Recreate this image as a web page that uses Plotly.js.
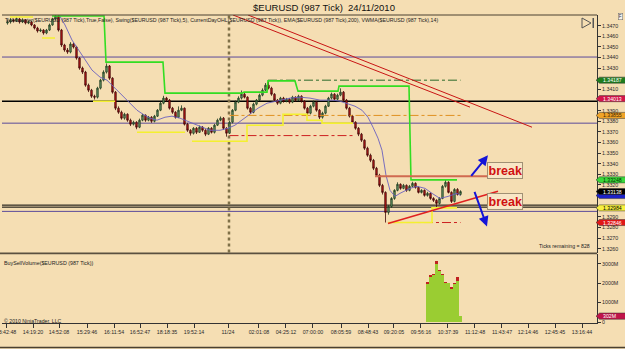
<!DOCTYPE html>
<html><head><meta charset="utf-8">
<script src="https://cdn.plot.ly/plotly-3.0.1.min.js"></script>
<style>html,body{margin:0;padding:0;background:#F5DEB3;}#chart{width:625px;height:349px;}</style>
</head><body><div id="chart"></div>
<script>
// ---------- DATA ----------
const openP = [1.34725,1.34735,1.34754,1.34744,1.34763,1.34735,1.34754,1.34725,1.34735,1.34707,
 1.34678,1.34650,1.34659,1.34631,1.34659,1.34707,1.34763,1.34792,1.34659,1.34518,
 1.34471,1.34452,1.34527,1.34499,1.34395,1.34301,1.34263,1.34140,1.34093,1.34036,
 1.34027,1.34112,1.34187,1.34263,1.34320,1.34206,1.34074,1.33923,1.33885,1.33829,
 1.33866,1.33810,1.33772,1.33791,1.33744,1.33810,1.33857,1.33810,1.33838,1.33800,
 1.33848,1.33904,1.33970,1.34018,1.33999,1.33923,1.33885,1.33838,1.33904,1.33923,
 1.33772,1.33715,1.33687,1.33734,1.33696,1.33744,1.33715,1.33678,1.33734,1.33696,
 1.33763,1.33810,1.33829,1.33734,1.33687,1.33791,1.33904,1.33980,1.34018,1.34055,
 1.34027,1.33923,1.33885,1.33961,1.33999,1.34046,1.34093,1.34140,1.34112,1.34055,
 1.33999,1.33970,1.34018,1.33989,1.34008,1.33980,1.34027,1.33999,1.34036,1.33989,
 1.33923,1.33876,1.33942,1.33980,1.33904,1.33838,1.33876,1.33942,1.34018,1.34055,
 1.34008,1.34046,1.34074,1.33999,1.33923,1.33848,1.33791,1.33734,1.33678,1.33621,
 1.33546,1.33480,1.33432,1.33357,1.33291,1.33196,1.33130,1.32941,1.32998,1.33073,
 1.33149,1.33206,1.33168,1.33196,1.33149,1.33187,1.33215,1.33177,1.33130,1.33149,
 1.33102,1.33121,1.33073,1.33055,1.33026,1.33073,1.33187,1.33225,1.33130,1.33045,
 1.33158,1.33111];
const highP = [1.34760,1.34772,1.34768,1.34780,1.34775,1.34770,1.34762,1.34750,1.34745,1.34715,
 1.34690,1.34675,1.34668,1.34670,1.34720,1.34775,1.34805,1.34800,1.34670,1.34530,
 1.34490,1.34545,1.34540,1.34510,1.34405,1.34315,1.34275,1.34155,1.34105,1.34050,
 1.34125,1.34200,1.34280,1.34345,1.34330,1.34215,1.34085,1.33940,1.33900,1.33880,
 1.33875,1.33825,1.33805,1.33800,1.33825,1.33870,1.33865,1.33850,1.33848,1.33860,
 1.33915,1.33985,1.34040,1.34030,1.34010,1.33935,1.33895,1.33940,1.33950,1.33930,
 1.33785,1.33725,1.33745,1.33745,1.33760,1.33755,1.33725,1.33745,1.33745,1.33775,
 1.33825,1.33845,1.33840,1.33745,1.33805,1.33915,1.33995,1.34035,1.34090,1.34070,
 1.34035,1.33935,1.33975,1.34010,1.34060,1.34110,1.34160,1.34187,1.34125,1.34065,
 1.34010,1.34030,1.34030,1.34020,1.34018,1.34040,1.34035,1.34050,1.34045,1.33998,
 1.33935,1.33955,1.33995,1.33990,1.33915,1.33890,1.33955,1.34030,1.34070,1.34065,
 1.34060,1.34110,1.34085,1.34010,1.33935,1.33860,1.33800,1.33745,1.33690,1.33630,
 1.33560,1.33495,1.33445,1.33370,1.33305,1.33210,1.33140,1.33010,1.33085,1.33160,
 1.33225,1.33215,1.33210,1.33205,1.33200,1.33230,1.33225,1.33185,1.33160,1.33158,
 1.33135,1.33130,1.33085,1.33065,1.33085,1.33200,1.33248,1.33235,1.33140,1.33170,
 1.33170,1.33150];
const lowP = [1.34710,1.34720,1.34730,1.34735,1.34720,1.34725,1.34712,1.34715,1.34695,1.34665,
 1.34635,1.34640,1.34615,1.34620,1.34650,1.34700,1.34750,1.34645,1.34500,1.34455,
 1.34435,1.34440,1.34485,1.34380,1.34285,1.34245,1.34125,1.34075,1.34020,1.34005,
 1.34015,1.34100,1.34175,1.34250,1.34190,1.34060,1.33905,1.33870,1.33815,1.33815,
 1.33795,1.33755,1.33760,1.33725,1.33735,1.33800,1.33795,1.33800,1.33785,1.33790,
 1.33840,1.33895,1.33960,1.33985,1.33910,1.33870,1.33825,1.33830,1.33895,1.33760,
 1.33700,1.33665,1.33675,1.33680,1.33690,1.33700,1.33660,1.33670,1.33685,1.33685,
 1.33755,1.33800,1.33720,1.33655,1.33680,1.33780,1.33895,1.33970,1.34005,1.34015,
 1.33910,1.33870,1.33875,1.33950,1.33990,1.34035,1.34085,1.34100,1.34040,1.33985,
 1.33955,1.33960,1.33975,1.33978,1.33965,1.33970,1.33985,1.33990,1.33975,1.33910,
 1.33860,1.33865,1.33930,1.33890,1.33820,1.33825,1.33865,1.33935,1.34005,1.33995,
 1.34000,1.34035,1.33985,1.33910,1.33835,1.33775,1.33720,1.33660,1.33605,1.33530,
 1.33465,1.33415,1.33340,1.33275,1.33180,1.33110,1.32846,1.32920,1.32985,1.33060,
 1.33140,1.33155,1.33160,1.33135,1.33140,1.33180,1.33165,1.33120,1.33120,1.33090,
 1.33090,1.33060,1.33040,1.32984,1.33015,1.33065,1.33175,1.33120,1.33030,1.33035,
 1.33100,1.33100];
const closeP = [1.34735,1.34754,1.34744,1.34763,1.34735,1.34754,1.34725,1.34735,1.34707,1.34678,
 1.34650,1.34659,1.34631,1.34659,1.34707,1.34763,1.34792,1.34659,1.34518,1.34471,
 1.34452,1.34527,1.34499,1.34395,1.34301,1.34263,1.34140,1.34093,1.34036,1.34027,
 1.34112,1.34187,1.34263,1.34320,1.34206,1.34074,1.33923,1.33885,1.33829,1.33866,
 1.33810,1.33772,1.33791,1.33744,1.33810,1.33857,1.33810,1.33838,1.33800,1.33848,
 1.33904,1.33970,1.34018,1.33999,1.33923,1.33885,1.33838,1.33904,1.33923,1.33772,
 1.33715,1.33687,1.33734,1.33696,1.33744,1.33715,1.33678,1.33734,1.33696,1.33763,
 1.33810,1.33829,1.33734,1.33687,1.33791,1.33904,1.33980,1.34018,1.34055,1.34027,
 1.33923,1.33885,1.33961,1.33999,1.34046,1.34093,1.34140,1.34112,1.34055,1.33999,
 1.33970,1.34018,1.33989,1.34008,1.33980,1.34027,1.33999,1.34036,1.33989,1.33923,
 1.33876,1.33942,1.33980,1.33904,1.33838,1.33876,1.33942,1.34018,1.34055,1.34008,
 1.34046,1.34074,1.33999,1.33923,1.33848,1.33791,1.33734,1.33678,1.33621,1.33546,
 1.33480,1.33432,1.33357,1.33291,1.33196,1.33130,1.32941,1.32998,1.33073,1.33149,
 1.33206,1.33168,1.33196,1.33149,1.33187,1.33215,1.33177,1.33130,1.33149,1.33102,
 1.33121,1.33073,1.33055,1.33026,1.33073,1.33187,1.33225,1.33130,1.33045,1.33158,
 1.33111,1.33138];

const vwmaBar = [16.83,19.17,21.5,24.17,25.83,28.17,30.83,33.17,35.83,38.17,40.83,43.17,45.17,47.5,49.83,52.5,54.83,57.5,60.83,64.17,67.5,70.83,73.5,75.83,78.17,80.83,83.5,86.5,90.83,94.17,97.5,100.83,104.17,108.5,110.83,113.17,115.83,118.17,120.17,121.83,123.5,124.83,126.17,127.5,129.17,130.83,134.17,136.5,139.17,141.5,144.17,146.83,149.83,151];
const vwmaVal = [1.34820,1.34707,1.34565,1.34452,1.34376,1.34282,1.34216,1.34187,1.34112,1.34046,1.33970,1.33904,1.33866,1.33829,1.33810,1.33838,1.33848,1.33829,1.33791,1.33753,1.33715,1.33715,1.33734,1.33763,1.33810,1.33866,1.33923,1.33970,1.33999,1.34018,1.34027,1.34018,1.33999,1.33999,1.33989,1.33970,1.33942,1.33904,1.33838,1.33744,1.33640,1.33527,1.33291,1.33149,1.33092,1.33121,1.33168,1.33187,1.33168,1.33121,1.33073,1.33092,1.33121,1.33100];

const swingHighBar = [14.83,32.17,32.83,51.83,52.5,78.17,78.83,86.5,86.83,95.83,96.83,110.17,110.5,133.83,134.5,149.83];
const swingHighVal = [1.34792,1.34792,1.34357,1.34357,1.34065,1.34065,1.34074,1.34074,1.34180,1.34180,1.34084,1.34084,1.34131,1.34131,1.33248,1.33248];

const swingLowBar = [0.83,8.5,null,11.5,15.83,null,28.5,35.83,null,43.17,59.17,null,61.5,79.83,79.83,91.83,91.83,99.83,99.83,104.83,104.83,115.17,null,126.83,141.5,141.5,149.83];
const swingLowVal = [1.34782,1.34782,null,1.34584,1.34584,null,1.33989,1.33989,null,1.33696,1.33696,null,1.33611,1.33611,1.33763,1.33763,1.33866,1.33866,1.33810,1.33810,1.33782,1.33782,null,1.32846,1.32846,1.32984,1.32984];

const dayHighBar = [86.83,151], dayHighVal = [1.34187,1.34187];
const dayOpenBar = [74,151], dayOpenVal = [1.33855,1.33855];
const dayLowBar = [74,115.17,null,126.83,151], dayLowVal = [1.33665,1.33665,null,1.32846,1.32846];

const trendABar = [75.17,154.17], trendAVal = [1.34801,1.33933];
const trendBBar = [80.17,174.83], trendBVal = [1.34801,1.33744];
const resistBar = [122.5,161.8], resistVal = [1.33281,1.33281];
const supportBar = [126.83,163.5], supportVal = [1.32837,1.33140];

const arrowHeadBar = [160.17,159.83], arrowHeadVal = [1.33479,1.32809];
const arrowTailBar = [154.17,155.5], arrowTailVal = [1.33272,1.33149];
const breakBar = [165.83,165.83], breakVal = [1.33338,1.33045];

const blackLevels = [1.33989,1.33010,1.32991];
const purpleLevels = [1.34405,1.33782,1.32951];
const daySeparatorBar = 73.83;

const volBar = [140,141,142,143,144,145,146,147,148,149,150,151];
const buyVol = [1.95e9,2.32e9,2.42e9,3.01e9,2.61e9,2.41e9,1.99e9,2.0e9,1.72e9,1.94e9,2.10e9,0.302e9];
const sellVol = [0.10e9,0.08e9,0.08e9,0.12e9,0.06e9,0.09e9,0.06e9,0,0.08e9,0.06e9,0.20e9,0];

const priceTicks = [1.3260,1.3270,1.3280,1.3290,1.3300,1.3310,1.3320,1.3330,1.3340,1.3350,1.3360,1.3370,1.3380,1.3390,1.3400,1.3410,1.3420,1.3430,1.3440,1.3450,1.3460,1.3470];
// labels hidden under the price tags in the reference
const priceTicksHidden = [1.3300,1.3310,1.3400,1.3420];
const volTicks = [0,1e9,2e9,3e9], volTickText = ['0','1000M','2000M','3000M'];

const tickBars = [-0.5,8.5,17.17,26.5,35.5,44.17,53.17,62.17,73.5,83.83,92.83,101.83,111.17,120.17,128.83,137.83,146.83,155.83,164.83,173.5,182.5,191.5];
const tickLabels = ['13:42:48','14:19:20','14:52:08','15:29:46','16:11:54','16:52:47','18:18:35','19:52:14','11/24','02:01:08','04:25:12','07:00:00','08:05:59','08:48:43','09:20:05','09:56:16','10:37:39','11:12:48','11:43:47','12:14:46','12:45:45','13:16:44'];

const tagVals = [1.34187,1.34013,1.33855,1.33248,1.33100,1.33138,1.32984,1.32846];
const tagLabels = ['1.34187','1.34013','1.33855','1.33248','1.33100','1.33138','1.32984','1.32846'];
const volTagVal = 0.302e9, volTagLabel = '302M';

// ---------- STYLE ----------
const tagBg = ['#1e7d1e','#d4144a','#f0a428','#3ad83a','#1c22c8','#000000','#f8f040','#e01818'];
const tagFg = ['#ffffff','#ffffff','#3a2000','#003000','#ffffff','#ffffff','#000000','#ffffff'];
const FONT = 'Liberation Sans, Arial, sans-serif';
const bars = closeP.map((_, i) => i);

const traces = [];
traces.push({type:'candlestick', x:bars, open:openP, high:highP, low:lowP, close:closeP,
  xaxis:'x', yaxis:'y', whiskerwidth:0,
  increasing:{line:{color:'#1e3b1e', width:0.8}, fillcolor:'#6c9c6c'},
  decreasing:{line:{color:'#400808', width:0.8}, fillcolor:'#c81818'},
  hoverinfo:'skip', showlegend:false});
function line(xs, ys, color, width, dash, yax){
  traces.push({type:'scatter', mode:'lines', x:xs, y:ys, xaxis:'x', yaxis:yax||'y',
    line:{color:color, width:width, dash:dash||'solid'}, connectgaps:false, hoverinfo:'skip', showlegend:false, cliponaxis:true});
}
line(vwmaBar, vwmaVal, '#6a60c0', 0.9);
line(dayHighBar, dayHighVal, '#2a6a2a', 1, 'dashdot');
line(dayOpenBar, dayOpenVal, '#e09020', 1, 'dashdot');
line(dayLowBar, dayLowVal, '#cc2020', 1, 'dashdot');
line(swingHighBar, swingHighVal, '#33dd22', 1.6);
line(swingLowBar, swingLowVal, '#f4f030', 1.6);
line(trendABar, trendAVal, '#c81414', 1);
line(trendBBar, trendBVal, '#c81414', 1);
line(resistBar, resistVal, '#d06a50', 2);
line(supportBar, supportVal, '#e02020', 1.5);

traces.push({type:'bar', x:volBar, y:buyVol, xaxis:'x', yaxis:'y2', width:1,
  marker:{color:'#9acd32', line:{width:0}}, hoverinfo:'skip', showlegend:false});
traces.push({type:'bar', x:volBar, y:sellVol, xaxis:'x', yaxis:'y2', width:1,
  marker:{color:'#c02020', line:{width:0}}, hoverinfo:'skip', showlegend:false});

const px2x = p => (p-2)/595;
const py2y = p => (323-p)/308;
const mainBottom = py2y(252.5);

const shapes = [];
blackLevels.forEach((v,k)=>shapes.push({type:'line', xref:'paper', yref:'y', x0:0, x1:1, y0:v, y1:v, line:{color:'#000', width:k===0?1.6:1}, layer:'below'}));
purpleLevels.forEach(v=>shapes.push({type:'line', xref:'paper', yref:'y', x0:0, x1:1, y0:v, y1:v, line:{color:'#5a4a9a', width:1}, layer:'below'}));
shapes.push({type:'line', xref:'x', yref:'paper', x0:daySeparatorBar, x1:daySeparatorBar, y0:mainBottom, y1:1, line:{color:'#7f7048', width:2.5, dash:'dot'}, layer:'below'});
shapes.push({type:'line', xref:'paper', yref:'paper', x0:0, x1:1, y0:1, y1:1, line:{color:'#4a4030', width:1}});
shapes.push({type:'line', xref:'paper', yref:'paper', x0:-0.01, x1:1, y0:py2y(253.3), y1:py2y(253.3), line:{color:'#5a5040', width:1.8}});
shapes.push({type:'line', xref:'paper', yref:'paper', x0:-0.01, x1:1.06, y0:py2y(347.5), y1:py2y(347.5), line:{color:'#4a4030', width:1.5}});
// play-to-end icon
shapes.push({type:'path', xref:'paper', yref:'paper', path:`M ${px2x(582)} ${py2y(18)} L ${px2x(591)} ${py2y(23)} L ${px2x(582)} ${py2y(28)} Z`, line:{color:'#555', width:1}, fillcolor:'rgba(0,0,0,0)'});
shapes.push({type:'rect', xref:'paper', yref:'paper', x0:px2x(592.5), x1:px2x(594), y0:py2y(28), y1:py2y(18), line:{width:0}, fillcolor:'#555'});

const tip = px2x(596), bx = px2x(599.5), ex = 1.07;
const hP = 0.000285;
tagVals.forEach((v,k)=>{
  shapes.push({type:'path', xref:'paper', yref:'y', path:`M ${tip} ${v} L ${bx} ${v+hP} L ${ex} ${v+hP} L ${ex} ${v-hP} L ${bx} ${v-hP} Z`, fillcolor:tagBg[k], line:{color:'#333', width:0.5}});
});
const hV = 0.16e9;
shapes.push({type:'path', xref:'paper', yref:'y2', path:`M ${tip} ${volTagVal} L ${bx} ${volTagVal+hV} L ${ex} ${volTagVal+hV} L ${ex} ${volTagVal-hV} L ${bx} ${volTagVal-hV} Z`, fillcolor:'#c0144a', line:{color:'#333', width:0.5}});

const ann = [];
tagVals.forEach((v,k)=>{ if(k===4) return; ann.push({xref:'paper', yref:'y', x:px2x(601), y:v, xanchor:'left', yanchor:'middle', text:tagLabels[k], showarrow:false, font:{family:FONT, size:5.2, color:tagFg[k]}}); });
ann.push({xref:'paper', yref:'y2', x:px2x(601), y:volTagVal, xanchor:'left', yanchor:'middle', text:volTagLabel, showarrow:false, font:{family:FONT, size:5.2, color:'#fff'}});
for(let k=0;k<2;k++){
  ann.push({xref:'x', yref:'y', axref:'x', ayref:'y', x:arrowHeadBar[k], y:arrowHeadVal[k], ax:arrowTailBar[k], ay:arrowTailVal[k], text:'', showarrow:true, arrowhead:2, arrowsize:1, arrowwidth:2, arrowcolor:'#1414d8', standoff:0});
  ann.push({xref:'x', yref:'y', x:breakBar[k], y:breakVal[k], text:'<b>break</b>', showarrow:false, font:{family:FONT, size:12.5, color:'#d01010'}, bgcolor:'#f8e6c6', bordercolor:'#a09074', borderwidth:1, borderpad:0.5});
}
ann.push({xref:'paper', yref:'paper', x:px2x(3), y:py2y(19.5), xanchor:'left', yanchor:'middle', showarrow:false,
  text:'TickCounter($EURUSD (987 Tick),True,False), Swing($EURUSD (987 Tick),5), CurrentDayOHL($EURUSD (987 Tick)), EMA($EURUSD (987 Tick),200), VWMA($EURUSD (987 Tick),14)',
  font:{family:FONT, size:5.25, color:'#222'}});
ann.push({xref:'paper', yref:'paper', x:px2x(592), y:py2y(246), xanchor:'right', yanchor:'middle', showarrow:false, text:'Ticks remaining = 828', font:{family:FONT, size:5.2, color:'#222'}});
ann.push({xref:'paper', yref:'paper', x:px2x(2), y:py2y(263), xanchor:'left', yanchor:'middle', showarrow:false, text:'BuySellVolume($EURUSD (987 Tick))', font:{family:FONT, size:5.3, color:'#222'}});
ann.push({xref:'paper', yref:'paper', x:px2x(2), y:py2y(320.5), xanchor:'left', yanchor:'middle', showarrow:false, text:'© 2010 NinjaTrader, LLC', font:{family:FONT, size:5.2, color:'#222'}});
ann.push({xref:'paper', yref:'paper', x:px2x(620), y:py2y(17), xanchor:'center', yanchor:'middle', showarrow:false, text:'F', font:{family:FONT, size:4.5, color:'#333'}, bgcolor:'#f4f0e8', bordercolor:'#666', borderwidth:0.5, borderpad:0.3});

const axFont = {family:FONT, size:5.3, color:'#2a2a2a'};
const layout = {
  width:625, height:349, autosize:false,
  margin:{l:2, r:28, t:15, b:26, pad:0},
  paper_bgcolor:'#F5DEB3', plot_bgcolor:'#F5DEB3',
  showlegend:false, barmode:'stack', bargap:0,
  title:{text:'$EURUSD (987 Tick)\u00a0 24/11/2010', x:324/625, xref:'container', xanchor:'center', y:1-8/349, yref:'container', yanchor:'middle', font:{family:FONT, size:9.5, color:'#111'}},
  xaxis:{range:[-1.833,196.5], anchor:'y2', showgrid:false, zeroline:false, rangeslider:{visible:false},
    tickmode:'array', tickvals:tickBars, ticktext:tickLabels, ticks:'outside', ticklen:4, tickwidth:1, tickcolor:'#333',
    ticklabeloverflow:'allow',
    tickfont:{family:FONT, size:5.3, color:'#2a2a2a'}, showline:true, linecolor:'#333', linewidth:1, fixedrange:true},
  yaxis:{domain:[py2y(252.5),1], range:[1.325637,1.348010], side:'right', showgrid:false, zeroline:false,
    tickmode:'array', tickvals:priceTicks, ticktext:priceTicks.map(v=>priceTicksHidden.includes(v)?'':v.toFixed(4)), ticks:'outside', ticklen:3, tickcolor:'#333',
    tickfont:axFont, showline:true, linecolor:'#333', linewidth:1, fixedrange:true},
  yaxis2:{domain:[0,py2y(254)], range:[-0.0515e9,3.505e9], side:'right', showgrid:false, zeroline:false,
    tickmode:'array', tickvals:volTicks, ticktext:volTickText, ticks:'outside', ticklen:3, tickcolor:'#333',
    tickfont:axFont, showline:true, linecolor:'#333', linewidth:1, fixedrange:true},
  shapes:shapes, annotations:ann
};
Plotly.newPlot('chart', traces, layout, {staticPlot:true, displayModeBar:false});
</script></body></html>
